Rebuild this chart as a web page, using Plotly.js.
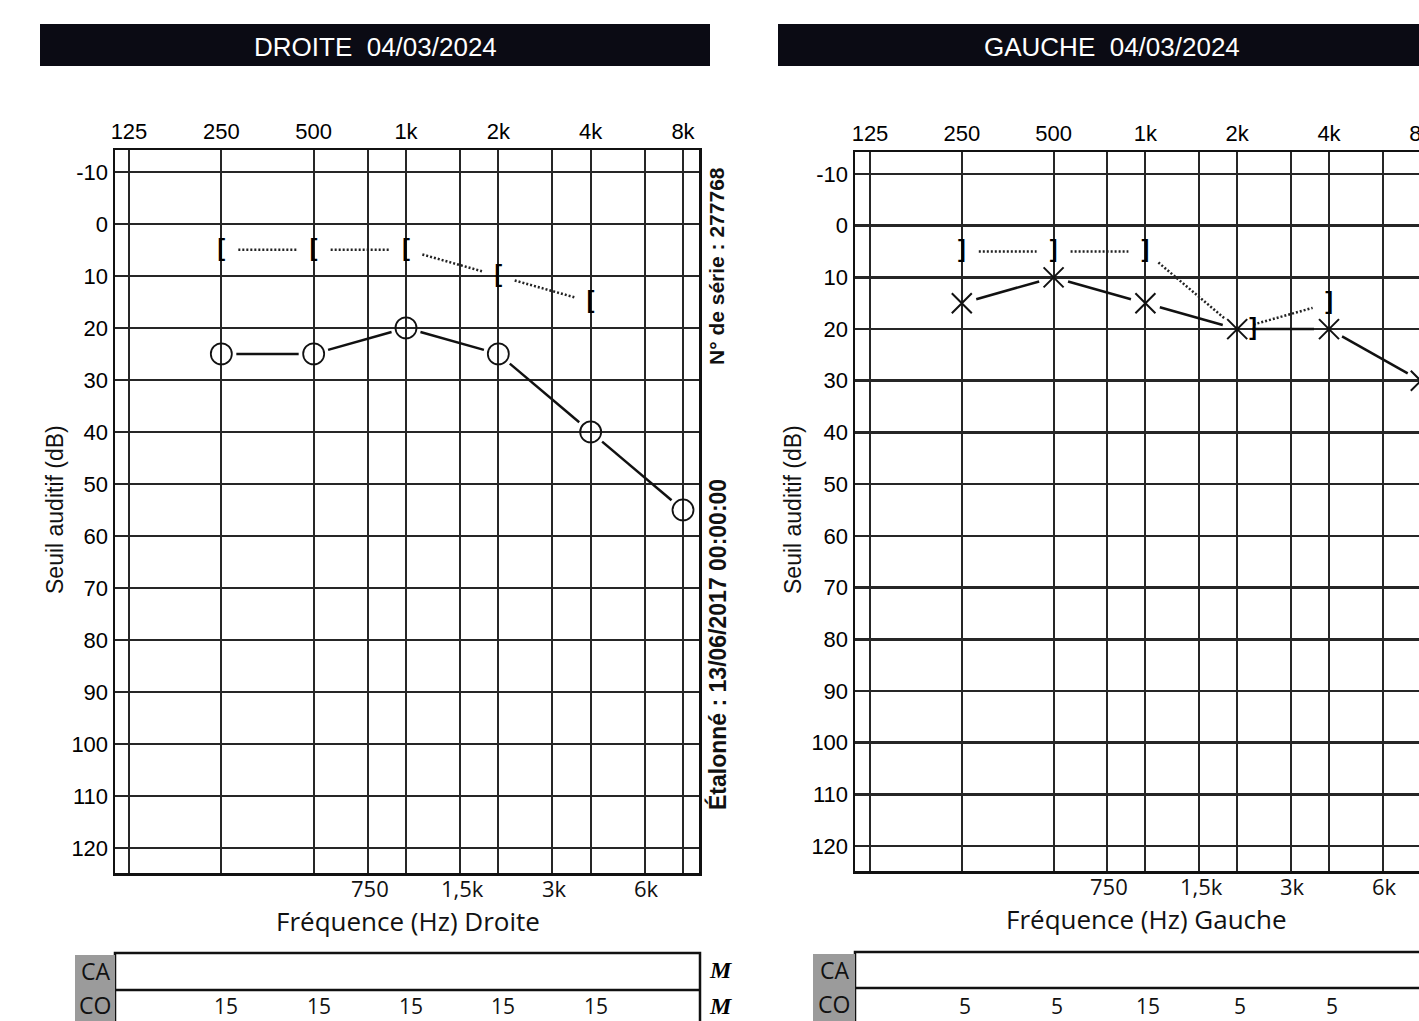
<!DOCTYPE html>
<html>
<head>
<meta charset="utf-8">
<script src="https://cdn.plot.ly/plotly-3.0.1.min.js"></script>
<style>
html,body{margin:0;padding:0;overflow:hidden;background:#fff;}
#chart{width:1460px;height:1021px;}
</style>
</head>
<body>
<div id="chart"></div>
<script>
// ---- data ----
const freqs = [250, 500, 1000, 2000, 4000, 8000];
const rightAir = [25, 25, 20, 25, 40, 55];
const leftAir = [15, 10, 15, 20, 20, 30];
const boneFreqs = [250, 500, 1000, 2000, 4000];
const rightBone = [5, 5, 5, 10, 15];
const leftBone = [5, 5, 5, 20, 15];
const coRight = [15, 15, 15, 15, 15];
const coLeft = [5, 5, 15, 5, 5];
const topTickVals = [125, 250, 500, 750, 1000, 1500, 2000, 3000, 4000, 6000, 8000];
const topTickText = ['125', '250', '500', '', '1k', '', '2k', '', '4k', '', '8k'];
const bottomTickVals = [750, 1500, 3000, 6000];
const bottomTickText = ['750', '1,5k', '3k', '6k'];
const yTickVals = [-10, 0, 10, 20, 30, 40, 50, 60, 70, 80, 90, 100, 110, 120];
const yTickText = ['-10', '0', '10', '20', '30', '40', '50', '60', '70', '80', '90', '100', '110', '120'];
const headerLeft = 'DROITE  04/03/2024';
const headerRight = 'GAUCHE  04/03/2024';
const xTitleLeft = 'Fréquence (Hz) Droite';
const xTitleRight = 'Fréquence (Hz) Gauche';
const yTitle = 'Seuil auditif (dB)';
const serialText = 'N° de série : 277768';
const calibText = 'Étalonné : 13/06/2017 00:00:00';

// ---- geometry ----
const W = 1460, H = 1021;
const px = v => v / W;
const py = v => 1 - v / H;
const L = {x0: 115, x1: 699, y0: 150, y1: 873, xr: [2.05129, 3.95522], yr: [124.8, -14.2]};
const R = {x0: 855, x1: 1437, y0: 152, y1: 871, xr: [2.04772, 3.95623], yr: [124.84, -14.26]};

function gapped(xs, ys, gap, g) {
  const kx = (g.x1 - g.x0) / (g.xr[1] - g.xr[0]);
  const ky = (g.y1 - g.y0) / (g.yr[0] - g.yr[1]);
  const ox = [], oy = [];
  for (let i = 0; i < xs.length - 1; i++) {
    const X1 = Math.log10(xs[i]) * kx, Y1 = ys[i] * ky;
    const X2 = Math.log10(xs[i + 1]) * kx, Y2 = ys[i + 1] * ky;
    const d = Math.hypot(X2 - X1, Y2 - Y1);
    const ux = (X2 - X1) / d, uy = (Y2 - Y1) / d;
    ox.push(Math.pow(10, (X1 + ux * gap) / kx), Math.pow(10, (X2 - ux * gap) / kx), null);
    oy.push((Y1 + uy * gap) / ky, (Y2 - uy * gap) / ky, null);
  }
  return {x: ox, y: oy};
}

const tickFont = {family: 'Liberation Sans, Arial, sans-serif', size: 22, color: '#000'};
const calFont = {family: 'Open Sans, sans-serif', size: 22, color: '#111'};
const brFont = {family: 'Liberation Sans, Arial, sans-serif', size: 23, color: '#000', weight: 'bold'};

const rAirLine = gapped(freqs, rightAir, 15, L);
const rBoneLine = gapped(boneFreqs, rightBone, 17, L);
const lAirLine = gapped(freqs, leftAir, 15, R);
const lBoneLine = gapped(boneFreqs, leftBone, 17, R);

const traces = [
  {x: rAirLine.x, y: rAirLine.y, xaxis: 'x', yaxis: 'y', mode: 'lines', line: {color: '#111', width: 2.5}, hoverinfo: 'skip'},
  {x: freqs, y: rightAir, xaxis: 'x', yaxis: 'y', mode: 'markers', marker: {symbol: 'circle-open', size: 21, color: '#111', line: {width: 1.8, color: '#111'}}},
  {x: rBoneLine.x, y: rBoneLine.y, xaxis: 'x', yaxis: 'y', mode: 'lines', line: {color: '#222', width: 2.5, dash: '2px,2px'}, hoverinfo: 'skip'},
  {x: boneFreqs, y: rightBone, xaxis: 'x', yaxis: 'y', mode: 'text', text: boneFreqs.map(() => '<b>[</b>'), textposition: 'middle center', textfont: brFont},
  {x: lAirLine.x, y: lAirLine.y, xaxis: 'x2', yaxis: 'y2', mode: 'lines', line: {color: '#111', width: 2.5}, hoverinfo: 'skip'},
  {x: freqs, y: leftAir, xaxis: 'x2', yaxis: 'y2', mode: 'markers', marker: {symbol: 'x-thin-open', size: 20, color: '#111', line: {width: 2, color: '#111'}}},
  {x: lBoneLine.x, y: lBoneLine.y, xaxis: 'x2', yaxis: 'y2', mode: 'lines', line: {color: '#222', width: 2.5, dash: '2px,2px'}, hoverinfo: 'skip'},
  {x: boneFreqs, y: leftBone, xaxis: 'x2', yaxis: 'y2', mode: 'text', text: boneFreqs.map(f => f === 2000 ? '&nbsp;&nbsp;&nbsp;&nbsp;&nbsp;<b>]</b>' : '<b>]</b>'), textposition: 'middle center', textfont: brFont}
];

function xTop(g, anchor) {
  return {type: 'log', range: g.xr, domain: [px(g.x0), px(g.x1)], anchor: anchor, side: 'top',
    tickmode: 'array', tickvals: topTickVals, ticktext: topTickText, tickfont: tickFont, ticks: '',
    showgrid: true, gridcolor: '#262626', gridwidth: 2, zeroline: false,
    showline: true, mirror: true, linecolor: '#111', linewidth: 2.5, fixedrange: true};
}
function yAx(g, anchor) {
  return {range: g.yr, domain: [py(g.y1), py(g.y0)], anchor: anchor,
    tickmode: 'array', tickvals: yTickVals, ticktext: yTickText, tickfont: tickFont, ticks: '',
    showgrid: true, gridcolor: '#262626', gridwidth: 2.6, zeroline: false,
    showline: true, mirror: true, linecolor: '#111', linewidth: 2.5, fixedrange: true};
}

const shapes = [
  {type: 'rect', xref: 'paper', yref: 'paper', x0: px(40), x1: px(710), y0: py(66), y1: py(24), fillcolor: '#0b0b14', line: {width: 0}},
  {type: 'rect', xref: 'paper', yref: 'paper', x0: px(778), x1: px(1446), y0: py(66), y1: py(24), fillcolor: '#0b0b14', line: {width: 0}},
  // tables
  {type: 'rect', xref: 'paper', yref: 'paper', x0: px(115), x1: px(700), y0: py(1040), y1: py(953), fillcolor: 'rgba(0,0,0,0)', line: {width: 2.5, color: '#111'}},
  {type: 'line', xref: 'paper', yref: 'paper', x0: px(115), x1: px(700), y0: py(990), y1: py(990), line: {width: 2.5, color: '#111'}},
  {type: 'rect', xref: 'paper', yref: 'paper', x0: px(855), x1: px(1480), y0: py(1040), y1: py(952), fillcolor: 'rgba(0,0,0,0)', line: {width: 2.5, color: '#111'}},
  {type: 'line', xref: 'paper', yref: 'paper', x0: px(855), x1: px(1480), y0: py(988), y1: py(988), line: {width: 2.5, color: '#111'}},
  {type: 'rect', xref: 'paper', yref: 'paper', x0: px(75), x1: px(115), y0: py(1021), y1: py(955), fillcolor: '#9b9b9b', line: {width: 0}},
  {type: 'rect', xref: 'paper', yref: 'paper', x0: px(813), x1: px(855), y0: py(1021), y1: py(954), fillcolor: '#9b9b9b', line: {width: 0}}
];

const ann = [];
function addText(text, x, y, font, opts) {
  ann.push(Object.assign({text: text, xref: 'paper', yref: 'paper', x: px(x), y: py(y), showarrow: false, font: font, xanchor: 'center', yanchor: 'middle'}, opts || {}));
}
const hdrFont = {family: 'Liberation Sans, Arial, sans-serif', size: 26, color: '#fff'};
addText(headerLeft, 375, 47, hdrFont);
addText(headerRight, 1112, 47, hdrFont);
const xtFont = {family: 'Open Sans, sans-serif', size: 26, color: '#111'};
addText(xTitleLeft, 408, 921, xtFont);
addText(xTitleRight, 1146, 919, xtFont);
const yTitleFont = {family: 'Liberation Sans, Arial, sans-serif', size: 23, color: '#111'};
addText(yTitle, 55, 510, yTitleFont, {textangle: -90});
addText(yTitle, 793, 510, yTitleFont, {textangle: -90});
addText('<b>' + serialText + '</b>', 717, 266, {family: 'Liberation Sans, Arial, sans-serif', size: 21, color: '#111'}, {textangle: -90});
addText('<b>' + calibText + '</b>', 717, 645, {family: 'Liberation Sans, Arial, sans-serif', size: 23, color: '#111'}, {textangle: -90});
const caFont = {family: 'Open Sans, sans-serif', size: 23, color: '#111'};
addText('CA', 95, 971, caFont);
addText('CO', 95, 1005, caFont);
addText('CA', 834, 970, caFont);
addText('CO', 834, 1004, caFont);
const iconFont = {family: 'Liberation Serif, serif', size: 24, color: '#000'};
addText('<b><i>M</i></b>', 721, 970, iconFont);
addText('<b><i>M</i></b>', 721, 1006, iconFont);
// bottom frequency labels placed through the log axes
bottomTickVals.forEach((f, i) => {
  ann.push({text: bottomTickText[i], xref: 'x', yref: 'paper', x: Math.log10(f), y: py(888), showarrow: false, font: calFont, xanchor: 'center', yanchor: 'middle', xshift: 2});
  ann.push({text: bottomTickText[i], xref: 'x2', yref: 'paper', x: Math.log10(f), y: py(886), showarrow: false, font: calFont, xanchor: 'center', yanchor: 'middle', xshift: 2});
});
const coFont = {family: 'Open Sans, sans-serif', size: 21, color: '#111'};
boneFreqs.forEach((f, i) => {
  ann.push({text: String(coRight[i]), xref: 'x', yref: 'paper', x: Math.log10(f), y: py(1006), showarrow: false, font: coFont, xanchor: 'center', yanchor: 'middle', xshift: 5});
  ann.push({text: String(coLeft[i]), xref: 'x2', yref: 'paper', x: Math.log10(f), y: py(1006), showarrow: false, font: coFont, xanchor: 'center', yanchor: 'middle', xshift: 3});
});

const layout = {
  width: W, height: H, margin: {l: 0, r: 0, t: 0, b: 0},
  paper_bgcolor: '#fff', plot_bgcolor: '#fff', showlegend: false,
  xaxis: xTop(L, 'y'),
  yaxis: yAx(L, 'x'),
  xaxis2: xTop(R, 'y2'),
  yaxis2: yAx(R, 'x2'),
  shapes: shapes,
  annotations: ann
};

Plotly.newPlot('chart', traces, layout, {staticPlot: true, displayModeBar: false});
</script>
</body>
</html>
